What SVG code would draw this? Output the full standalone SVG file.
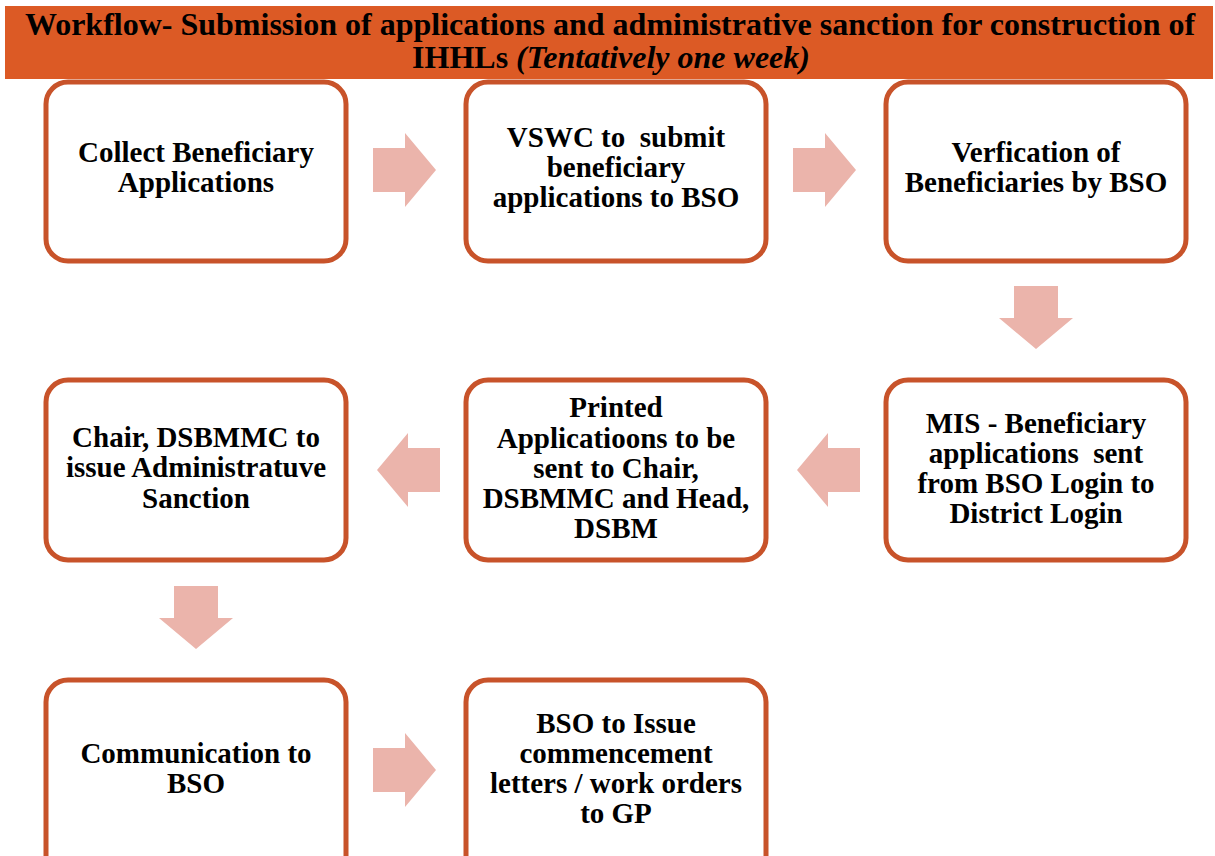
<svg xmlns="http://www.w3.org/2000/svg" width="1215" height="856" viewBox="0 0 1215 856">
  <style>
    .box { fill: #FFFFFF; stroke: #C8532A; stroke-width: 5; }
    .arrow { fill: #EBB4AB; }
    .label { font-family: 'Liberation Serif', 'DejaVu Serif', serif; font-weight: bold; font-size: 29px; fill: #000000; text-anchor: middle; }
    .title { font-family: 'Liberation Serif', 'DejaVu Serif', serif; font-weight: bold; font-size: 32px; fill: #000000; text-anchor: middle; }
  </style>
  <defs>
    <!-- block arrow pointing right, origin at shaft start, vertical centre -->
    <path id="arrowRight" d="M0,-22 H32 V-37 L63,0 L32,37 V22 H0 Z"/>
  </defs>

  <rect width="1215" height="856" fill="#FFFFFF"/>

  <!-- title banner -->
  <g id="header">
    <rect x="5" y="6" width="1208" height="73" fill="#DC5A25"/>
    <text class="title" x="610" y="35">Workflow- Submission of applications and administrative sanction for construction of</text>
    <text class="title" x="611" y="68">IHHLs <tspan font-style="italic">(Tentatively one week)</tspan></text>
  </g>

  <!-- connectors -->
  <g id="connectors" class="arrow">
    <use href="#arrowRight" transform="translate(373,170)"/>
    <use href="#arrowRight" transform="translate(793,170)"/>
    <use href="#arrowRight" transform="translate(1036,286) rotate(90)"/>
    <use href="#arrowRight" transform="translate(860,470) rotate(180)"/>
    <use href="#arrowRight" transform="translate(440,470) rotate(180)"/>
    <use href="#arrowRight" transform="translate(196,586) rotate(90)"/>
    <use href="#arrowRight" transform="translate(373,770)"/>
  </g>

  <g id="collect">
    <rect class="box" x="46" y="82" width="300" height="179" rx="22"/>
    <text class="label" x="196" y="162">Collect Beneficiary</text>
    <text class="label" x="196" y="192">Applications</text>
  </g>

  <g id="vswc-submit">
    <rect class="box" x="466" y="82" width="300" height="179" rx="22"/>
    <text class="label" x="616" y="147" xml:space="preserve">VSWC to  submit</text>
    <text class="label" x="616" y="177">beneficiary</text>
    <text class="label" x="616" y="207">applications to BSO</text>
  </g>

  <g id="verification">
    <rect class="box" x="886" y="82" width="300" height="179" rx="22"/>
    <text class="label" x="1036" y="162">Verfication of</text>
    <text class="label" x="1036" y="192">Beneficiaries by BSO</text>
  </g>

  <g id="mis-transfer">
    <rect class="box" x="886" y="380" width="300" height="180" rx="22"/>
    <text class="label" x="1036" y="433">MIS - Beneficiary</text>
    <text class="label" x="1036" y="463" xml:space="preserve">applications  sent</text>
    <text class="label" x="1036" y="493">from BSO Login to</text>
    <text class="label" x="1036" y="523">District Login</text>
  </g>

  <g id="printed-applications">
    <rect class="box" x="466" y="380" width="300" height="180" rx="22"/>
    <text class="label" x="616" y="417">Printed</text>
    <text class="label" x="616" y="448">Applicatioons to be</text>
    <text class="label" x="616" y="478">sent to Chair,</text>
    <text class="label" x="616" y="508">DSBMMC and Head,</text>
    <text class="label" x="616" y="538">DSBM</text>
  </g>

  <g id="administrative-sanction">
    <rect class="box" x="46" y="380" width="300" height="180" rx="22"/>
    <text class="label" x="196" y="447">Chair, DSBMMC to</text>
    <text class="label" x="196" y="477">issue Administratuve</text>
    <text class="label" x="196" y="508">Sanction</text>
  </g>

  <g id="communication">
    <rect class="box" x="46" y="680" width="300" height="200" rx="22"/>
    <text class="label" x="196" y="763">Communication to</text>
    <text class="label" x="196" y="793">BSO</text>
  </g>

  <g id="commencement">
    <rect class="box" x="466" y="680" width="300" height="200" rx="22"/>
    <text class="label" x="616" y="733">BSO to Issue</text>
    <text class="label" x="616" y="763">commencement</text>
    <text class="label" x="616" y="793">letters / work orders</text>
    <text class="label" x="616" y="823">to GP</text>
  </g>
</svg>
